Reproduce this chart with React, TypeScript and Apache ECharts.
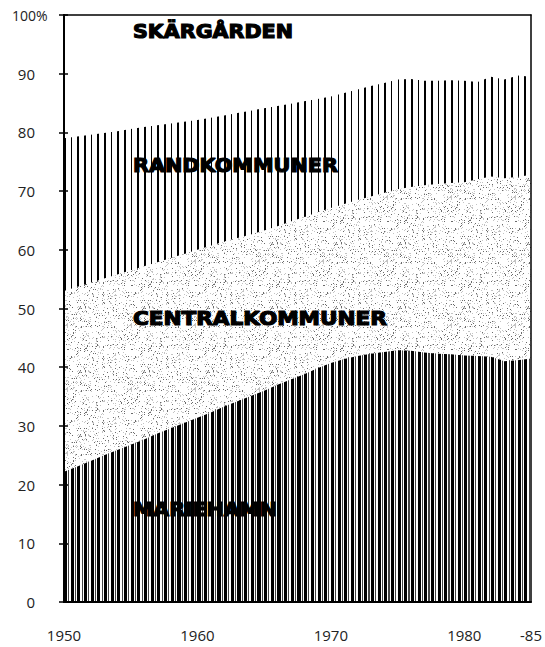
import React, { useEffect, useRef } from 'react';
import * as echarts from 'echarts';

// ---- data (shares in %) ----
const years = [
  1950, 1951, 1952, 1953, 1954, 1955, 1956, 1957, 1958, 1959,
  1960, 1961, 1962, 1963, 1964, 1965, 1966, 1967, 1968, 1969,
  1970, 1971, 1972, 1973, 1974, 1975, 1976, 1977, 1978, 1979,
  1980, 1981, 1982, 1983, 1984, 1985,
];
const mariehamn = [
  22.2, 23.1, 24.0, 25.0, 25.9, 26.8, 27.7, 28.7, 29.6, 30.5,
  31.4, 32.3, 33.3, 34.2, 35.1, 36.0, 37.0, 37.9, 38.8, 39.8,
  40.7, 41.4, 41.9, 42.3, 42.6, 42.9, 42.8, 42.5, 42.3, 42.2,
  42.0, 41.9, 41.8, 41.0, 41.2, 41.5,
];
const centralkommuner = [
  30.8, 30.6, 30.4, 30.1, 29.9, 29.7, 29.5, 29.2, 29.0, 28.8,
  28.6, 28.4, 28.1, 27.8, 27.5, 27.3, 27.0, 26.9, 26.8, 26.6,
  26.4, 26.4, 26.6, 26.8, 27.1, 27.4, 27.9, 28.5, 28.9, 29.2,
  29.5, 30.1, 30.7, 31.2, 31.2, 31.3,
];
const randkommuner = [
  26.0, 25.6, 25.2, 24.8, 24.4, 24.1, 23.7, 23.3, 22.9, 22.5,
  22.1, 21.8, 21.5, 21.3, 21.1, 20.8, 20.5, 20.1, 19.7, 19.3,
  19.0, 18.9, 18.8, 18.8, 18.7, 18.7, 18.4, 17.8, 17.6, 17.5,
  17.3, 16.6, 17.0, 16.8, 17.3, 16.7,
];
const skargarden = [
  21.0, 20.7, 20.4, 20.1, 19.8, 19.4, 19.1, 18.8, 18.5, 18.2,
  17.9, 17.5, 17.1, 16.7, 16.3, 15.9, 15.5, 15.1, 14.7, 14.3,
  13.9, 13.3, 12.7, 12.1, 11.6, 11.0, 10.9, 11.2, 11.2, 11.1,
  11.2, 11.4, 10.5, 11.0, 10.3, 10.5,
];
const seriesNames = ['MARIEHAMN', 'CENTRALKOMMUNER', 'RANDKOMMUNER', 'SKÄRGÅRDEN'];
const xLabelValues = [1950, 1960, 1970, 1980, 1985];
const xLabelTexts = ['1950', '1960', '1970', '1980', '-85'];
const yLabelValues = [0, 10, 20, 30, 40, 50, 60, 70, 80, 90];
const yLabelTexts = ['0', '10', '20', '30', '40', '50', '60', '70', '80', '90'];
const yTopLabel = '100%';

// ---- layout (pixels) ----
const W = 545;
const H = 647;
const GRID = { left: 64, right: 14, top: 15, bottom: 45 };
const nameLayout = [
  { name: 'SKÄRGÅRDEN', x: 133, y: 32, w: 160 },
  { name: 'RANDKOMMUNER', x: 133, y: 166, w: 205 },
  { name: 'CENTRALKOMMUNER', x: 133, y: 318, w: 254 },
  { name: 'MARIEHAMN', x: 133, y: 510, w: 144 },
];

function hash(x: number, y: number) {
  let n = (Math.imul(x, 374761393) + Math.imul(y, 668265263)) | 0;
  n = Math.imul(n ^ (n >>> 13), 1274126177);
  n = n ^ (n >>> 16);
  return (n >>> 0) / 4294967296;
}

// vertical stripes as a hard-stop horizontal gradient across the plot
function stripeGradient(x0: number, x1: number, count: number, parts: [number, string][]) {
  const L = x1 - x0;
  const period = L / count;
  const stops: { offset: number; color: string }[] = [];
  for (let k = 0; k < count; k++) {
    let pos = k * period;
    for (const [w, c] of parts) {
      const a = Math.min(pos / L, 1);
      const b = Math.min((pos + w) / L, 1);
      stops.push({ offset: a, color: c }, { offset: b, color: c });
      pos += w;
    }
  }
  return { type: 'linear', x: x0, y: 0, x2: x1, y2: 0, global: true, colorStops: stops };
}

function stippleCanvas() {
  const s = 64;
  const c = document.createElement('canvas');
  c.width = s;
  c.height = s;
  const ctx = c.getContext('2d')!;
  ctx.fillStyle = '#fff';
  ctx.fillRect(0, 0, s, s);
  for (let y = 0; y < s; y++) {
    for (let x = 0; x < s; x++) {
      const v = hash(x, y);
      if (v < 0.045) {
        ctx.fillStyle = '#6a6a6a';
        ctx.fillRect(x, y, 1, 1);
      } else if (v < 0.14) {
        ctx.fillStyle = '#c4c4c4';
        ctx.fillRect(x, y, 1, 1);
      }
    }
  }
  return c;
}

export default function App() {
  const ref = useRef<HTMLDivElement>(null);
  useEffect(() => {
    if (!ref.current) return;
    const chart = echarts.init(ref.current, undefined, { renderer: 'svg' });

    const x0 = GRID.left;
    const x1 = W - GRID.right;
    const stip = stippleCanvas();
    const fills = [
      stripeGradient(x0, x1, 70, [[3.1, '#000'], [1.1, '#fff'], [1.1, '#444'], [1.371, '#fff']]),
      { image: stip, repeat: 'repeat', imageWidth: stip.width, imageHeight: stip.height },
      stripeGradient(x0, x1, 70, [[1.6, '#000'], [5.071, '#fff']]),
      '#ffffff',
    ];
    const shares = [mariehamn, centralkommuner, randkommuner, skargarden];
    // cumulative tops (each band drawn from 0 up to its cumulative top; lower bands painted over)
    const cumulative = shares.map((_, si) =>
      years.map((_, i) => {
        let s = 0;
        for (let k = 0; k <= si; k++) s += shares[k][i];
        return Math.round(s * 100) / 100;
      })
    );

    const measure = document.createElement('canvas').getContext('2d')!;
    const fontSize = 19;
    measure.font = `bold ${fontSize}px "DejaVu Sans"`;

    const axisFont = { fontFamily: 'Open Sans', fontSize: 15, color: '#222' };
    const black = { color: '#000' };

    const nameTexts = nameLayout.map((n) => {
      const w = measure.measureText(n.name).width;
      return {
        type: 'text',
        x: n.x,
        y: n.y,
        scaleX: n.w / w,
        z: 100,
        style: {
          text: n.name,
          fontFamily: 'DejaVu Sans',
          fontWeight: 'bold',
          fontSize,
          fill: '#000',
          stroke: '#000',
          lineWidth: 1.2,
          align: 'left',
          verticalAlign: 'middle',
        },
      };
    });

    const order = [3, 2, 1, 0];
    chart.setOption({
      animation: false,
      backgroundColor: '#fff',
      grid: { ...GRID, outerBoundsMode: 'none', containLabel: false },
      xAxis: [
        {
          type: 'value', min: 1950, max: 1985, interval: 5, position: 'bottom', z: 10,
          axisLine: { show: true, onZero: false, lineStyle: { ...black, width: 2 } },
          axisTick: { show: false },
          splitLine: { show: false },
          axisLabel: {
            ...axisFont, margin: 25, showMinLabel: true, showMaxLabel: true,
            formatter: (v: number) => {
              const i = xLabelValues.indexOf(v);
              return i >= 0 ? xLabelTexts[i] : '';
            },
          },
        },
        {
          type: 'value', min: 1950, max: 1985, position: 'top', z: 10,
          axisLine: { show: true, onZero: false, lineStyle: { ...black, width: 1.5 } },
          axisTick: { show: false }, axisLabel: { show: false }, splitLine: { show: false },
        },
      ],
      yAxis: [
        {
          type: 'value', min: 0, max: 100, interval: 10, position: 'left', z: 10,
          axisLine: { show: true, onZero: false, lineStyle: { ...black, width: 2 } },
          axisTick: { show: true, length: 5, lineStyle: { ...black, width: 1.5 } },
          splitLine: { show: false },
          axisLabel: {
            ...axisFont, margin: 29,
            formatter: (v: number) => {
              const i = yLabelValues.indexOf(v);
              return i >= 0 ? yLabelTexts[i] : '';
            },
          },
        },
        {
          type: 'value', min: 0, max: 100, interval: 10, position: 'left', offset: 0, z: 10,
          axisLine: { show: true, onZero: false, lineStyle: { ...black, width: 2 } },
          axisTick: { show: true, inside: true, length: 4, lineStyle: { ...black, width: 1.5 } },
          axisLabel: { show: false }, splitLine: { show: false },
        },
        {
          type: 'value', min: 0, max: 100, position: 'right', z: 10,
          axisLine: { show: true, onZero: false, lineStyle: { ...black, width: 1.5 } },
          axisTick: { show: false }, axisLabel: { show: false }, splitLine: { show: false },
        },
      ],
      series: order.map((si, oi) => ({
        name: seriesNames[si],
        type: 'line',
        xAxisIndex: 0,
        yAxisIndex: 0,
        z: 1 + oi,
        symbol: 'none',
        showSymbol: false,
        lineStyle: { width: 0 },
        areaStyle: { color: fills[si], opacity: 1, origin: 'start' },
        data: years.map((y, i) => [y, cumulative[si][i]]),
      })),
      graphic: [
        ...nameTexts,
        {
          type: 'text',
          x: 12,
          y: GRID.top,
          z: 100,
          style: {
            text: yTopLabel,
            fontFamily: 'Open Sans',
            fontSize: 14,
            fill: '#222',
            align: 'left',
            verticalAlign: 'middle',
          },
        },
      ],
    });
    return () => chart.dispose();
  }, []);
  return (
    <div
      ref={ref}
      style={{ position: 'fixed', left: 0, top: 0, width: W, height: H }}
    />
  );
}
